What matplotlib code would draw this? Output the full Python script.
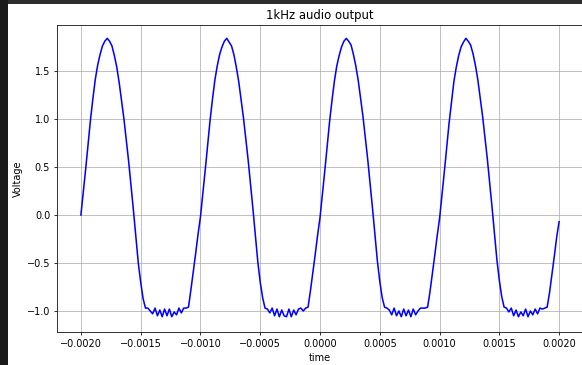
import numpy as np
import matplotlib.pyplot as plt
from matplotlib.patches import Rectangle

t_start, t_stop = -0.002, 0.002

cycle_1 = [0.00, 0.24, 0.48, 0.74, 0.99, 1.21, 1.41, 1.56, 1.67, 1.76,
           1.81, 1.84, 1.81, 1.76, 1.66, 1.54, 1.38, 1.19, 1.00, 0.78,
           0.55, 0.30, 0.04, -0.23, -0.50, -0.70, -0.87, -0.97,
           -0.97, -1.00, -1.03, -0.97, -1.05, -0.99, -1.06, -0.98, -1.05,
           -0.98, -1.06, -1.01, -1.04, -0.97, -1.02, -0.97, -0.97,
           -0.96, -0.78, -0.59, -0.40, -0.20]
cycle_2 = [-0.02, 0.22, 0.47, 0.72, 0.98, 1.20, 1.40, 1.55, 1.67, 1.75,
           1.81, 1.84, 1.80, 1.76, 1.67, 1.54, 1.39, 1.20, 1.01, 0.79,
           0.56, 0.31, 0.05, -0.22, -0.49, -0.70, -0.86, -0.97,
           -0.98, -1.02, -0.97, -1.05, -0.98, -1.06, -0.99, -1.05, -1.06,
           -0.98, -1.06, -0.99, -1.04, -0.98, -0.97, -1.00, -0.97,
           -0.96, -0.79, -0.60, -0.41, -0.21]
cycle_3 = [-0.03, 0.21, 0.46, 0.71, 0.97, 1.19, 1.39, 1.55, 1.66, 1.75,
           1.81, 1.84, 1.81, 1.77, 1.67, 1.55, 1.40, 1.21, 1.02, 0.80,
           0.57, 0.32, 0.06, -0.21, -0.48, -0.69, -0.86, -0.96,
           -0.97, -0.99, -1.04, -0.97, -1.05, -1.00, -1.06, -0.98, -1.05,
           -0.99, -1.06, -0.98, -1.04, -1.00, -0.97, -0.97, -0.97,
           -0.96, -0.80, -0.61, -0.42, -0.22]
cycle_4 = [-0.04, 0.20, 0.45, 0.70, 0.96, 1.18, 1.39, 1.54, 1.66, 1.75,
           1.80, 1.84, 1.81, 1.77, 1.68, 1.56, 1.41, 1.22, 1.03, 0.81,
           0.58, 0.33, 0.07, -0.20, -0.47, -0.68, -0.85, -0.96,
           -0.97, -1.01, -0.97, -1.05, -0.99, -1.06, -1.01, -1.05, -0.98,
           -1.06, -1.00, -1.04, -0.98, -1.03, -0.97, -0.98, -0.97,
           -0.96, -0.81, -0.62, -0.43, -0.23]
last_value = [-0.07]

voltage = np.array(cycle_1 + cycle_2 + cycle_3 + cycle_4 + last_value)
time = np.linspace(t_start, t_stop, len(voltage))

W, H, DPI = 582, 365, 70
fig = plt.figure(figsize=(W / DPI, H / DPI), dpi=DPI, facecolor='#1a1a1a')
# screenshot frame: dark strip on the left and top
fig.add_artist(Rectangle((8 / W, 361 / H), 1, 4 / H, transform=fig.transFigure,
                         facecolor='#2d2d2d', edgecolor='none', zorder=-2))
fig.add_artist(Rectangle((8 / W, 0), 1, 361 / H, transform=fig.transFigure,
                         facecolor='white', edgecolor='none', zorder=-1))

ax = fig.add_axes([57 / W, 33 / H, 526 / W, 307 / H])
ax.plot(time, voltage, color='blue', lw=1.6)
ax.set_xlim(-0.0022, 0.0022)
ax.set_ylim(-1.219, 1.979)
ax.set_title('1kHz audio output')
ax.set_xlabel('time')
ax.set_ylabel('Voltage')
ax.grid(True)

fig.savefig('out.png', dpi=DPI, facecolor=fig.get_facecolor())
